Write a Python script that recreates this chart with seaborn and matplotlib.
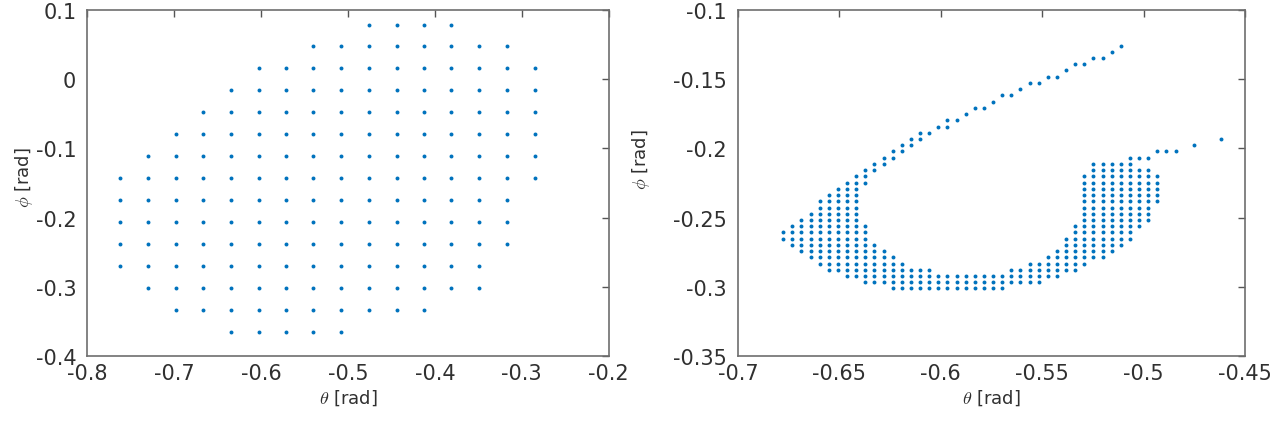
import numpy as np
import pandas as pd
import seaborn as sns
import matplotlib.pyplot as plt

# left panel: coarse grid (rad)
left_theta = [-0.762, -0.730, -0.698, -0.667, -0.635, -0.603, -0.571, -0.540,
              -0.508, -0.476, -0.444, -0.413, -0.381, -0.349, -0.317, -0.285]
left_phi = [0.079, 0.048, 0.016, -0.016, -0.048, -0.079, -0.111, -0.143,
            -0.175, -0.206, -0.238, -0.270, -0.302, -0.333, -0.365]
# occupied columns per phi row (first, last index into left_theta)
left_first = [9, 7, 5, 4, 3, 2, 1, 0, 0, 0, 0, 0, 1, 2, 4]
left_last = [12, 14, 15, 15, 15, 15, 15, 15, 14, 14, 14, 13, 13, 11, 8]

# right panel: fine grid (rad)
right_theta = [-0.6777, -0.6732, -0.6687, -0.6642, -0.6597, -0.6552, -0.6507, -0.6462,
               -0.6417, -0.6372, -0.6327, -0.6282, -0.6237, -0.6192, -0.6147, -0.6102,
               -0.6057, -0.6012, -0.5967, -0.5922, -0.5877, -0.5832, -0.5787, -0.5742,
               -0.5697, -0.5652, -0.5607, -0.5562, -0.5517, -0.5472, -0.5427, -0.5382,
               -0.5337, -0.5292, -0.5247, -0.5202, -0.5157, -0.5112, -0.5067, -0.5022,
               -0.4977, -0.4932, -0.4887, -0.4842, -0.4797, -0.4752, -0.4707, -0.4662,
               -0.4617]
right_phi = [-0.3012, -0.2967, -0.2922, -0.2877, -0.2832, -0.2787, -0.2742, -0.2697,
             -0.2652, -0.2607, -0.2562, -0.2517, -0.2472, -0.2427, -0.2382, -0.2337,
             -0.2292, -0.2247, -0.2202, -0.2157, -0.2112, -0.2067, -0.2022, -0.1977,
             -0.1932, -0.1887, -0.1842, -0.1797, -0.1752, -0.1707, -0.1662, -0.1617,
             -0.1572, -0.1527, -0.1482, -0.1437, -0.1392, -0.1347, -0.1302, -0.1257]
# runs of points: (phi row, first column, last column)
right_runs = [
    (0, 12, 24), (1, 9, 28), (2, 7, 30),
    (3, 5, 16), (3, 25, 32), (4, 4, 13), (4, 27, 33),
    (5, 3, 12), (5, 29, 35), (6, 2, 11), (6, 30, 36),
    (7, 1, 10), (7, 31, 37), (8, 0, 9), (8, 31, 38),
    (9, 0, 9), (9, 32, 38), (10, 1, 9), (10, 32, 39),
    (11, 2, 8), (11, 33, 40), (12, 3, 8), (12, 33, 40),
    (13, 4, 8), (13, 33, 40), (14, 4, 8), (14, 33, 41),
    (15, 5, 8), (15, 33, 41), (16, 6, 8), (16, 33, 41),
    (17, 7, 9), (17, 33, 41), (18, 8, 9), (18, 33, 41),
    (19, 9, 10), (19, 34, 40), (20, 10, 11), (20, 34, 38),
    (21, 11, 12), (21, 38, 40), (22, 12, 13), (22, 41, 43),
    (23, 13, 14), (23, 45, 45), (24, 14, 15), (24, 48, 48),
    (25, 15, 16), (26, 17, 18), (27, 18, 19), (28, 20, 20),
    (29, 21, 22), (30, 23, 23), (31, 24, 25), (32, 26, 26),
    (33, 27, 28), (34, 29, 30), (35, 31, 31), (36, 32, 33),
    (37, 34, 35), (38, 36, 36), (39, 37, 37),
]


def build_points(theta, phi, runs):
    pts = []
    for k, c0, c1 in runs:
        for c in range(c0, c1 + 1):
            pts.append((theta[c], phi[k]))
    return pd.DataFrame(pts, columns=['theta', 'phi'])


df_left = build_points(left_theta, left_phi,
                       [(j, a, b) for j, (a, b) in enumerate(zip(left_first, left_last))])
df_right = build_points(right_theta, right_phi, right_runs)

sns.set_style('white')
plt.rcParams['font.family'] = ['DejaVu Sans']
plt.rcParams['mathtext.fontset'] = 'cm'
plt.rcParams['axes.unicode_minus'] = False

fig = plt.figure(figsize=(12.79, 4.27), dpi=100)
ax1 = fig.add_axes([0.0684, 0.1639, 0.4074, 0.8103])
ax2 = fig.add_axes([0.5770, 0.1639, 0.3964, 0.8103])

dot_color = '#0072BD'
text_color = '#303030'


def style_axes(ax, xticks, yticks, xlim, ylim):
    ax.set_xlim(xlim)
    ax.set_ylim(ylim)
    ax.set_xticks(xticks)
    ax.set_yticks(yticks)
    ax.set_xticklabels([f'{v:g}' for v in xticks])
    ax.set_yticklabels([f'{v:g}' for v in yticks])
    ax.tick_params(direction='in', top=True, right=True, length=5, width=1.0,
                   color='#555555', labelsize=15, labelcolor=text_color)
    ax.tick_params(axis='x', pad=5)
    ax.tick_params(axis='y', pad=8)
    for s in ax.spines.values():
        s.set_color('#6e6e6e')
        s.set_linewidth(1.2)
    ax.set_xlabel(r'$\theta$ [rad]', fontsize=13, color=text_color, labelpad=3)
    ax.set_ylabel(r'$\phi$ [rad]', fontsize=13, color=text_color)


sns.scatterplot(data=df_left, x='theta', y='phi', ax=ax1, color=dot_color,
                s=8, linewidth=0, legend=False)
sns.scatterplot(data=df_right, x='theta', y='phi', ax=ax2, color=dot_color,
                s=8, linewidth=0, legend=False)

style_axes(ax1, [-0.8, -0.7, -0.6, -0.5, -0.4, -0.3, -0.2],
           [-0.4, -0.3, -0.2, -0.1, 0, 0.1], (-0.8, -0.2), (-0.4, 0.1))
style_axes(ax2, [-0.7, -0.65, -0.6, -0.55, -0.5, -0.45],
           [-0.35, -0.3, -0.25, -0.2, -0.15, -0.1], (-0.7, -0.45), (-0.35, -0.1))

ax1.yaxis.set_label_coords(-0.10, 0.52)
ax2.yaxis.set_label_coords(-0.17, 0.57)

fig.savefig('out.png', dpi=100)
